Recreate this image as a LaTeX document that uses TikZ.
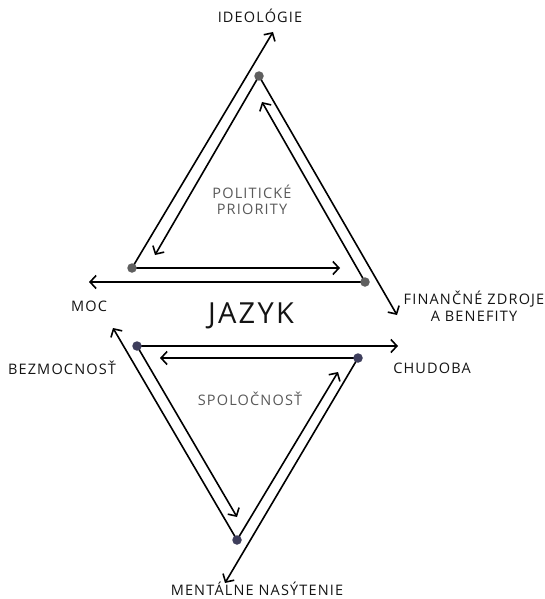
\documentclass[tikz,border=0pt]{standalone}
\usepackage{fontspec}
\setmainfont[LetterSpace=8]{Open Sans}
\usetikzlibrary{arrows.meta,backgrounds}
\definecolor{dotgrey}{RGB}{95,95,95}
\definecolor{dotnavy}{RGB}{62,62,92}

\begin{document}
\begin{tikzpicture}[x=1pt, y=-1pt,
  lbl/.style={font=\fontsize{14.5}{16.5}\selectfont, text=black!92, inner sep=0pt, align=center},
  inlbl/.style={lbl, text=black!65},
  dotg/.style={shape=circle, fill=dotgrey, inner sep=0pt, minimum size=9.5pt},
  dotn/.style={shape=circle, fill=dotnavy, inner sep=0pt, minimum size=9.5pt},
  arr/.style={-{Straight Barb[length=6pt,width=13pt]}, line width=1.6pt}]
    \useasboundingbox (0,0) rectangle (545,599);

    % upper triangle
    \node[dotg] (ptop) at (259,76) {};
    \node[dotg] (pleft) at (132,268) {};
    \node[dotg] (pright) at (365,282) {};
    \coordinate (ideoend) at (273,32);
    \coordinate (pleftin) at (155,255);
    \coordinate (finend) at (397,315);
    \coordinate (ptopin) at (262,102);
    \coordinate (prightin) at (340,268);
    \coordinate (mocend) at (89,282);

    \node[lbl] (ideo) at (260,16) {IDEOLÓGIE};
    \node[lbl] (moc) at (89,306) {MOC};
    \node[lbl] (fin) at (474,306) {FINANČNÉ ZDROJE\\A BENEFITY};
    \node[inlbl] (polit) at (252,200) {POLITICKÉ\\PRIORITY};

    \node[lbl, font=\fontsize{29}{32}\selectfont] (jazyk) at (251,316) {JAZYK};

    % lower triangle
    \node[dotn] (sleft) at (137,346) {};
    \node[dotn] (sright) at (358,358) {};
    \node[dotn] (sbot) at (237,540) {};
    \coordinate (chudend) at (398,346);
    \coordinate (sleftin) at (160,358);
    \coordinate (bezend) at (113,328);
    \coordinate (sbotin) at (237,517);
    \coordinate (srightin) at (338,372);
    \coordinate (mentend) at (225,583);

    \node[lbl] (bez) at (62,368) {BEZMOCNOSŤ};
    \node[lbl] (chud) at (432,368) {CHUDOBA};
    \node[inlbl] (spol) at (250,399) {SPOLOČNOSŤ};
    \node[lbl, align=none, anchor=base] (ment) at (257,595) {MENTÁLNE NASÝTENIE};

    \begin{scope}[on background layer]
      \draw[arr] (pleft.center) -- (ideoend);
      \draw[arr] (ptop.center) -- (pleftin);
      \draw[arr] (ptop.center) -- (finend);
      \draw[arr] (pright.center) -- (ptopin);
      \draw[arr] (pleft.center) -- (prightin);
      \draw[arr] (pright.center) -- (mocend);

      \draw[arr] (sleft.center) -- (chudend);
      \draw[arr] (sright.center) -- (sleftin);
      \draw[arr] (sbot.center) -- (bezend);
      \draw[arr] (sleft.center) -- (sbotin);
      \draw[arr] (sbot.center) -- (srightin);
      \draw[arr] (sright.center) -- (mentend);
    \end{scope}
  \end{tikzpicture}
\end{document}
